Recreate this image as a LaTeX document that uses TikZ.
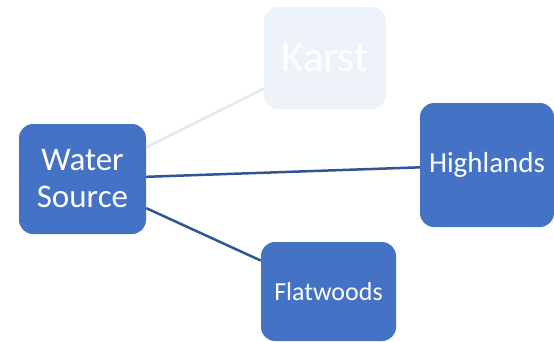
\documentclass[tikz,border=0pt]{standalone}
\usepackage{fontspec}
\setmainfont{Carlito}
\definecolor{boxblue}{HTML}{4472C4}
\definecolor{lineblue}{HTML}{2F5597}
\definecolor{fadebox}{HTML}{EEF2F9}
\definecolor{fadeline}{HTML}{E4E8F1}
\begin{document}
\begin{tikzpicture}[x=1pt, y=-1pt,
  box/.style={shape=rectangle, rounded corners=14pt, fill=boxblue, text=white, inner sep=0pt, align=center},
  faded/.style={box, fill=fadebox},
  link/.style={draw=lineblue, line width=2.5pt}]
\useasboundingbox (0,0) rectangle (554,341);

\node[box, minimum width=127pt, minimum height=110pt, font=\fontsize{33}{37}\selectfont] (ws) at (82.5,179) {Water\\Source};
\node[faded, minimum width=122pt, minimum height=102pt, font=\fontsize{43}{47}\selectfont] (karst) at (325,58) {Karst};
\node[box, minimum width=134pt, minimum height=124pt, font=\fontsize{29}{33}\selectfont] (high) at (487,165) {Highlands};
\node[box, minimum width=135pt, minimum height=99pt, font=\fontsize{26}{30}\selectfont] (flat) at (328.5,291.5) {Flatwoods};

%\draw[link] (ws) -- (karst);
\draw[draw=fadeline, line width=2.5pt] (ws) -- (karst);
\draw[link] (ws) -- (high);
\draw[link] (ws) -- (flat);
\end{tikzpicture}
\end{document}
